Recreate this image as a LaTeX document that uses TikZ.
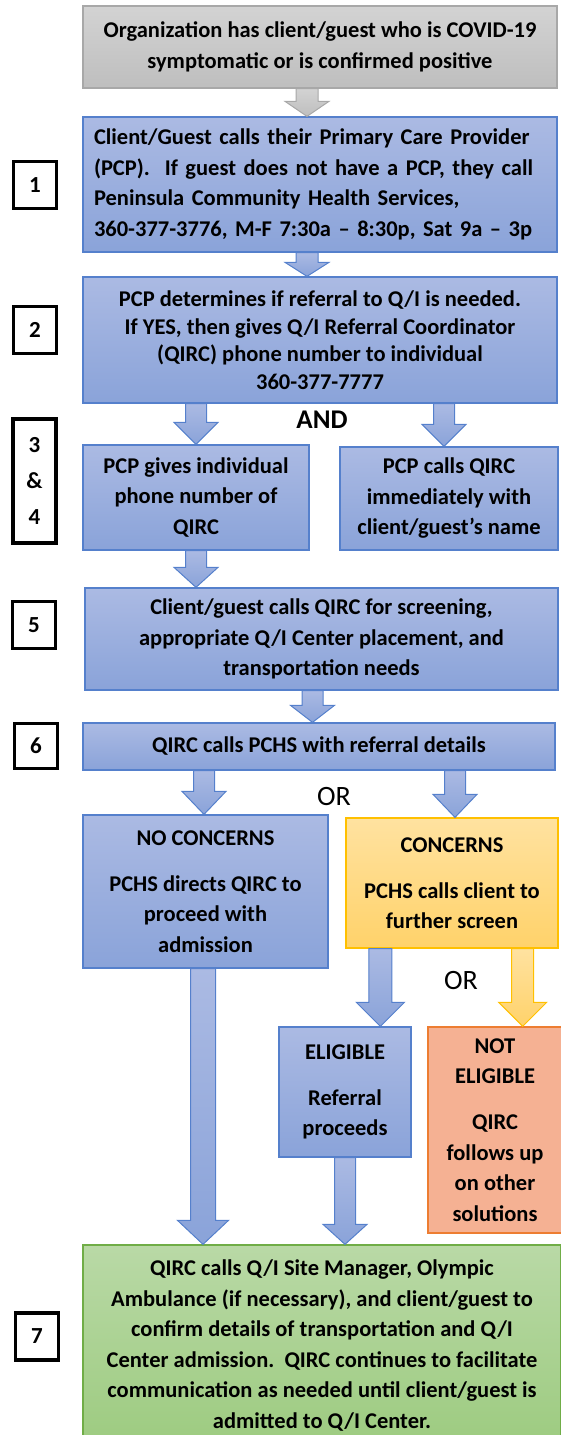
\documentclass[tikz,border=0pt]{standalone}
\usepackage{fontspec}
\setmainfont{Carlito}
\usetikzlibrary{calc}
\definecolor{bluetop}{HTML}{ABBAE3}
\definecolor{bluebot}{HTML}{8AA3D9}
\definecolor{blueline}{HTML}{5580CC}
\definecolor{graytop}{HTML}{D3D3D3}
\definecolor{graybot}{HTML}{BEBEBE}
\definecolor{grayline}{HTML}{A8A8A8}
\definecolor{yeltop}{HTML}{FFE2A0}
\definecolor{yelbot}{HTML}{FFD26A}
\definecolor{yelline}{HTML}{FFC000}
\definecolor{salfill}{HTML}{F5B193}
\definecolor{salline}{HTML}{ED7D31}
\definecolor{grntop}{HTML}{B9D9A6}
\definecolor{grnbot}{HTML}{9DCB80}
\definecolor{grnline}{HTML}{70AD47}
\tikzset{
  basebox/.style={rectangle, draw, line width=1.3pt, inner sep=0pt, align=center,
    font=\bfseries\fontsize{22.5}{30.5}\selectfont},
  bluebox/.style={basebox, draw=blueline, top color=bluetop, bottom color=bluebot},
  graybox/.style={basebox, draw=grayline, top color=graytop, bottom color=graybot},
  yelbox/.style={basebox, draw=yelline, top color=yeltop, bottom color=yelbot},
  salbox/.style={basebox, draw=salline, fill=salfill},
  grnbox/.style={basebox, draw=grnline, top color=grntop, bottom color=grnbot},
  numbox/.style={rectangle, draw=black, line width=3.5pt, fill=white, inner sep=0pt,
    minimum width=43pt, minimum height=47pt, align=center,
    font=\bfseries\fontsize{23}{36}\selectfont},
  barrow/.style n args={3}{to path={let \p1=(\tikztostart), \p2=(\tikztotarget) in
    (\x1-#1,\y1) -- (\x1-#1,\y2+#3) -- (\x1-#2,\y2+#3) -- (\x1,\y2)
    -- (\x1+#2,\y2+#3) -- (\x1+#1,\y2+#3) -- (\x1+#1,\y1) -- cycle}},
  bluearrow/.style={draw=blueline, line width=1pt, top color=bluetop, bottom color=bluebot},
  grayarrow/.style={draw=grayline, line width=1pt, top color=graytop, bottom color=graybot},
  yelarrow/.style={draw=yelline, line width=1pt, top color=yeltop, bottom color=yelbot},
  word/.style={font=\bfseries\fontsize{27}{30}\selectfont, inner sep=0pt},
}
\begin{document}
\begin{tikzpicture}[x=1pt,y=-1pt]
\useasboundingbox (0,0) rectangle (560,1435);

% main boxes
\node[graybox, minimum width=474pt, minimum height=82pt] (b0) at (320,47)
  {Organization has client/guest who is COVID-19\\symptomatic or is confirmed positive};
\node[bluebox, minimum width=474pt, minimum height=135pt, text width=452pt, align=left] (b1) at (320,184.5)
  {Client/Guest calls their Primary Care Provider\\(PCP).\ \ If guest does not have a PCP, they call\\Peninsula Community Health Services,\\360-377-3776, M-F 7:30a – 8:30p, Sat 9a – 3p};
\node[bluebox, minimum width=474pt, minimum height=126pt, font=\bfseries\fontsize{22.5}{27.5}\selectfont] (b2) at (320,340)
  {PCP determines if referral to Q/I is needed.\\If YES, then gives Q/I Referral Coordinator\\(QIRC) phone number to individual\\360-377-7777};
\node[bluebox, minimum width=226pt, minimum height=105pt] (b3) at (196,497.5)
  {PCP gives individual\\phone number of\\QIRC};
\node[bluebox, minimum width=218pt, minimum height=103pt] (b4) at (449,498.5)
  {PCP calls QIRC\\immediately with\\client/guest’s name};
\node[bluebox, minimum width=473pt, minimum height=102pt] (b5) at (321.5,639)
  {Client/guest calls QIRC for screening,\\appropriate Q/I Center placement, and\\transportation needs};
\node[bluebox, minimum width=472pt, minimum height=47pt] (b6) at (319,746.5)
  {QIRC calls PCHS with referral details};
\node[bluebox, minimum width=245pt, minimum height=153pt] (nc) at (205.5,891.5)
  {NO CONCERNS\\[15.5pt]PCHS directs QIRC to\\proceed with\\admission};
\node[yelbox, minimum width=212pt, minimum height=130pt] (c) at (452,883)
  {CONCERNS\\[15.5pt]PCHS calls client to\\further screen};
\node[bluebox, minimum width=132pt, minimum height=130pt] (e) at (345,1092)
  {ELIGIBLE\\[15.5pt]Referral\\proceeds};
\node[salbox, minimum width=134pt, minimum height=206pt] (ne) at (495,1130)
  {NOT\\ELIGIBLE\\[15.5pt]QIRC\\follows up\\on other\\solutions};
\node[grnbox, minimum width=478pt, minimum height=201pt] (b7) at (322,1345.5)
  {QIRC calls Q/I Site Manager, Olympic\\Ambulance (if necessary), and client/guest to\\confirm details of transportation and Q/I\\Center admission.\ \ QIRC continues to facilitate\\communication as needed until client/guest is\\admitted to Q/I Center.};

% step numbers
\node[numbox] (n1) at (35,185) {1};
\node[numbox] (n2) at (35,330) {2};
\node[numbox, minimum height=124pt] (n34) at (34.5,481) {3\\\&\\4};
\node[numbox] (n5) at (34,625) {5};
\node[numbox, minimum height=45pt] (n6) at (36,746) {6};
\node[numbox] (n7) at (37,1336.5) {7};

% words
\node[word] (and) at (322,420) {AND};
\node[word, font=\fontsize{28}{30}\selectfont] (or1) at (334,797) {OR};
\node[word, font=\fontsize{28}{30}\selectfont] (or2) at (461,980) {OR};

% helper coordinates
\coordinate (a0) at ([xshift=-13pt]b0.south);
\coordinate (a0t) at ([xshift=-13pt]b1.north);
\coordinate (a1) at ([xshift=-13pt]b1.south);
\coordinate (a1t) at ([xshift=-13pt]b2.north);
\coordinate (a4) at ([xshift=-5pt]b4.north);
\coordinate (a5) at ([xshift=-9pt]b5.south);
\coordinate (a6l) at ([xshift=-1.5pt]nc.north);
\coordinate (a6r) at ([xshift=3pt]c.north);
\coordinate (anc) at ([xshift=-2.5pt]nc.south);
\coordinate (ace) at ([xshift=35pt]c.south west);
\coordinate (acn) at ([xshift=-36pt]c.south east);

% block arrows
\draw[grayarrow] (a0) to[barrow={11pt}{22pt}{15pt}] (a0t);
\draw[bluearrow] (a1) to[barrow={11pt}{22pt}{14pt}] (a1t);
\draw[bluearrow] (b3.north |- b2.south) to[barrow={10.5pt}{22pt}{22pt}] (b3.north);
\draw[bluearrow] (a4 |- b2.south) to[barrow={10.5pt}{22pt}{22pt}] (a4);
\draw[bluearrow] (b3.south) to[barrow={10.5pt}{22pt}{20pt}] (b3.south |- b5.north);
\draw[bluearrow] (a5) to[barrow={10.5pt}{22pt}{17pt}] (a5 |- b6.north);
\draw[bluearrow] (a6l |- b6.south) to[barrow={10.5pt}{22pt}{23pt}] (a6l);
\draw[bluearrow] (a6r |- b6.south) to[barrow={10.5pt}{22pt}{23pt}] (a6r);
\draw[bluearrow] (anc) to[barrow={12.5pt}{25.5pt}{24pt}] (anc |- b7.north);
\draw[bluearrow] (ace) to[barrow={11.5pt}{24pt}{24pt}] (ace |- e.north);
\draw[yelarrow] (acn) to[barrow={11pt}{24pt}{24pt}] (acn |- ne.north);
\draw[bluearrow] (e.south) to[barrow={10.5pt}{22pt}{20pt}] (e.south |- b7.north);
\end{tikzpicture}
\end{document}
